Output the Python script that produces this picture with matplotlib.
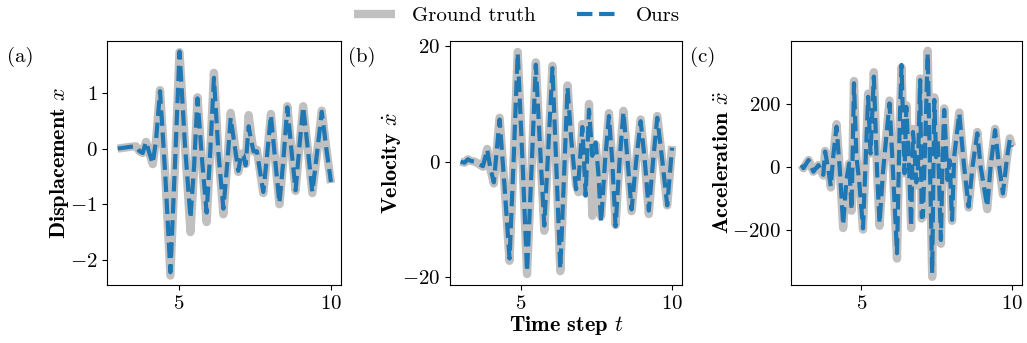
import matplotlib
matplotlib.use('Agg')
from matplotlib import pyplot as plt

plt.rcParams['font.family'] = 'serif'
plt.rcParams['font.serif'] = ['cmr10']
plt.rcParams['mathtext.fontset'] = 'cm'
plt.rcParams['axes.formatter.use_mathtext'] = True

# displacement (a)
t_disp = [3.00, 3.15, 3.40, 3.60, 3.72, 3.82, 3.93, 4.04, 4.15, 4.26, 4.39, 4.56, 4.73, 4.88,
          5.03, 5.21, 5.39, 5.51, 5.62, 5.77, 5.92, 6.04, 6.16, 6.31, 6.47, 6.60, 6.71, 6.84,
          6.96, 7.06, 7.13, 7.20, 7.30, 7.38, 7.46, 7.57, 7.67, 7.78, 7.90, 8.03, 8.17, 8.31,
          8.44, 8.57, 8.70, 8.84, 8.96, 9.09, 9.24, 9.39, 9.54, 9.70, 9.85, 10.0]
disp_true = [0.00, 0.01, 0.03, 0.04, -0.05, -0.08, 0.12, -0.08, -0.28, 0.15, 1.05, -0.45, -2.28, -0.30,
             1.73, 0.05, -1.50, -0.35, 0.92, -0.25, -1.32, -0.05, 1.36, -0.10, -1.18, -0.25, 0.64, 0.10,
             -0.42, -0.10, -0.08, -0.28, 0.60, 0.25, -0.05, -0.02, -0.40, -0.80, -0.15, 0.62, -0.20, -1.00,
             -0.20, 0.76, 0.00, -0.76, 0.00, 0.76, 0.00, -0.80, -0.10, 0.68, 0.00, -0.62]
disp_ours = [0.00, 0.01, 0.03, 0.04, -0.05, -0.08, 0.12, -0.08, -0.27, 0.15, 1.03, -0.45, -2.22, -0.30,
             1.74, 0.05, -1.25, -0.30, 0.90, -0.20, -1.15, -0.05, 1.27, -0.10, -1.08, -0.25, 0.55, 0.05,
             -0.40, -0.10, -0.12, -0.30, 0.40, 0.15, -0.05, -0.05, -0.40, -0.78, -0.15, 0.60, -0.20, -0.98,
             -0.20, 0.74, 0.00, -0.75, 0.00, 0.75, 0.00, -0.78, -0.10, 0.66, 0.00, -0.60]

# velocity (b)
t_vel = [3.00, 3.13, 3.24, 3.35, 3.46, 3.60, 3.74, 3.88, 3.98, 4.10, 4.29, 4.45, 4.62, 4.76,
         4.89, 5.05, 5.20, 5.35, 5.49, 5.63, 5.77, 5.90, 6.04, 6.17, 6.30, 6.42, 6.54, 6.66,
         6.76, 6.82, 6.90, 7.03, 7.14, 7.25, 7.36, 7.47, 7.56, 7.65, 7.78, 7.91, 8.02, 8.13,
         8.26, 8.39, 8.53, 8.66, 8.81, 8.96, 9.10, 9.23, 9.37, 9.51, 9.68, 9.84, 10.0]
vel_true = [0.0, -0.2, 0.4, 0.1, 0.0, -0.4, -0.9, 2.2, -1.2, -3.8, 7.6, -4.0, -17.2, 1.0,
            19.0, 0.0, -19.5, -1.0, 17.2, 2.5, -12.0, 2.0, 16.6, -1.0, -19.0, -3.0, 13.2, 4.0,
            -0.5, -4.0, -5.3, 6.5, -5.5, 10.0, -9.4, 3.0, -2.0, -9.5, 0.0, 8.4, 0.0, -11.0,
            0.0, 8.8, 0.0, -8.6, 0.0, 7.3, 0.0, -9.1, 0.0, 7.9, 0.0, -7.6, 2.7]
vel_ours = [0.0, -0.2, 0.4, 0.1, 0.0, -0.4, -0.8, 2.1, -1.0, -3.6, 7.3, -4.0, -16.8, 1.0,
            18.8, 0.0, -19.1, -1.0, 16.8, 2.5, -11.1, 2.0, 16.2, -1.0, -18.6, -3.0, 12.8, 4.0,
            -1.5, -4.8, -3.5, 6.0, -5.9, 9.0, 1.0, 3.3, -2.0, -10.5, 0.0, 7.9, 0.0, -11.2,
            0.0, 8.6, 0.0, -8.3, 0.0, 7.0, 0.0, -8.5, 0.0, 7.6, 0.0, -7.6, 2.4]

# acceleration (c)
t_acc = [3.00, 3.07, 3.24, 3.40, 3.57, 3.73, 3.79, 3.90, 3.98, 4.06, 4.17, 4.28, 4.39, 4.50,
         4.59, 4.67, 4.75, 4.83, 4.92, 5.05, 5.22, 5.30, 5.41, 5.52, 5.60, 5.71, 5.93, 6.04,
         6.18, 6.27, 6.33, 6.43, 6.49, 6.54, 6.60, 6.65, 6.71, 6.76, 6.82, 6.87, 6.95, 7.00,
         7.04, 7.12, 7.20, 7.28, 7.35, 7.42, 7.48, 7.53, 7.58, 7.64, 7.70, 7.75, 7.80, 7.86,
         7.93, 8.01, 8.08, 8.25, 8.41, 8.56, 8.69, 8.85, 8.96, 9.18, 9.29, 9.44, 9.55, 9.70,
         9.84, 9.93, 10.0]
acc_true = [5, -5, 21, -16, 5, -28, 50, -10, -66, 32, 135, -10, -195, -42,
            10, -140, 272, 32, -42, -200, 232, 42, 300, -21, -188, -21, 210, 0,
            -292, 138, 315, -21, 195, 85, -60, -195, 120, 53, -60, -21, 280, -165,
            -159, 85, 368, -21, -350, 220, 40, 85, -60, -245, 60, 185, 90, -42,
            30, -172, 32, 172, 0, -130, 0, 110, 0, -135, 0, 120, 21, -88,
            32, 90, 65]
acc_ours = [5, -5, 21, -16, 5, -26, 48, -10, -63, 32, 127, -10, -185, -42,
            10, -137, 265, 32, -42, -196, 222, 42, 286, -21, -180, -21, 201, 0,
            -275, 138, 323, -21, 190, 85, -50, -190, 110, 53, -50, -21, 275, -160,
            -159, 85, 360, -21, -338, 212, 30, 85, -50, -233, 50, 180, 80, -42,
            20, -169, 32, 169, 0, -127, 0, 106, 0, -127, 0, 116, 21, -85,
            32, 86, 63]

gray = '#c0c0c0'
blue = '#1f77b4'
fs = 15

fig = plt.figure(figsize=(10.27, 3.43), dpi=100)
ax1 = fig.add_axes([0.1042, 0.169, 0.2278, 0.7114])
ax2 = fig.add_axes([0.4382, 0.169, 0.2259, 0.7114])
ax3 = fig.add_axes([0.7700, 0.169, 0.2250, 0.7114])

panels = [
    (ax1, t_disp, disp_true, disp_ours, 'Displacement $x$', (-2.45, 1.93), [-2, -1, 0, 1], -0.153, '(a)', 20),
    (ax2, t_vel, vel_true, vel_ours, r'Velocity $\dot{x}$', (-21.4, 20.9), [-20, 0, 20], -0.203, '(b)', 362),
    (ax3, t_acc, acc_true, acc_ours, r'Acceleration $\ddot{x}$', (-376, 399), [-200, 0, 200], -0.254, '(c)', 703),
]

for ax, t, yt, yo, lab, yl, yt_ticks, lx, tag, tagx in panels:
    l1, = ax.plot(t, yt, color=gray, lw=6, label='Ground truth', solid_capstyle='butt')
    l2, = ax.plot(t, yo, color=blue, lw=3, ls='--', label='Ours')
    ax.set_xlim(2.65, 10.33)
    ax.set_ylim(*yl)
    ax.set_xticks([5, 10])
    ax.set_yticks(yt_ticks)
    ax.tick_params(labelsize=fs)
    ax.set_ylabel(lab, fontsize=16, fontfamily='cmb10')
    ax.yaxis.set_label_coords(lx, 0.5)
    fig.text(tagx / 1027, 1 - 57 / 343, tag, fontsize=fs, ha='center', va='center')

ax2.set_xlabel('Time step $t$', fontsize=16, fontfamily='cmb10')
ax2.xaxis.set_label_coords(0.5, -0.165)
ax2.xaxis.label.set_verticalalignment('center')

fig.legend(handles=[l1, l2], loc='center', bbox_to_anchor=(0.503, 0.953), ncol=2,
           frameon=False, fontsize=fs)

fig.savefig('out.png', dpi=100)
